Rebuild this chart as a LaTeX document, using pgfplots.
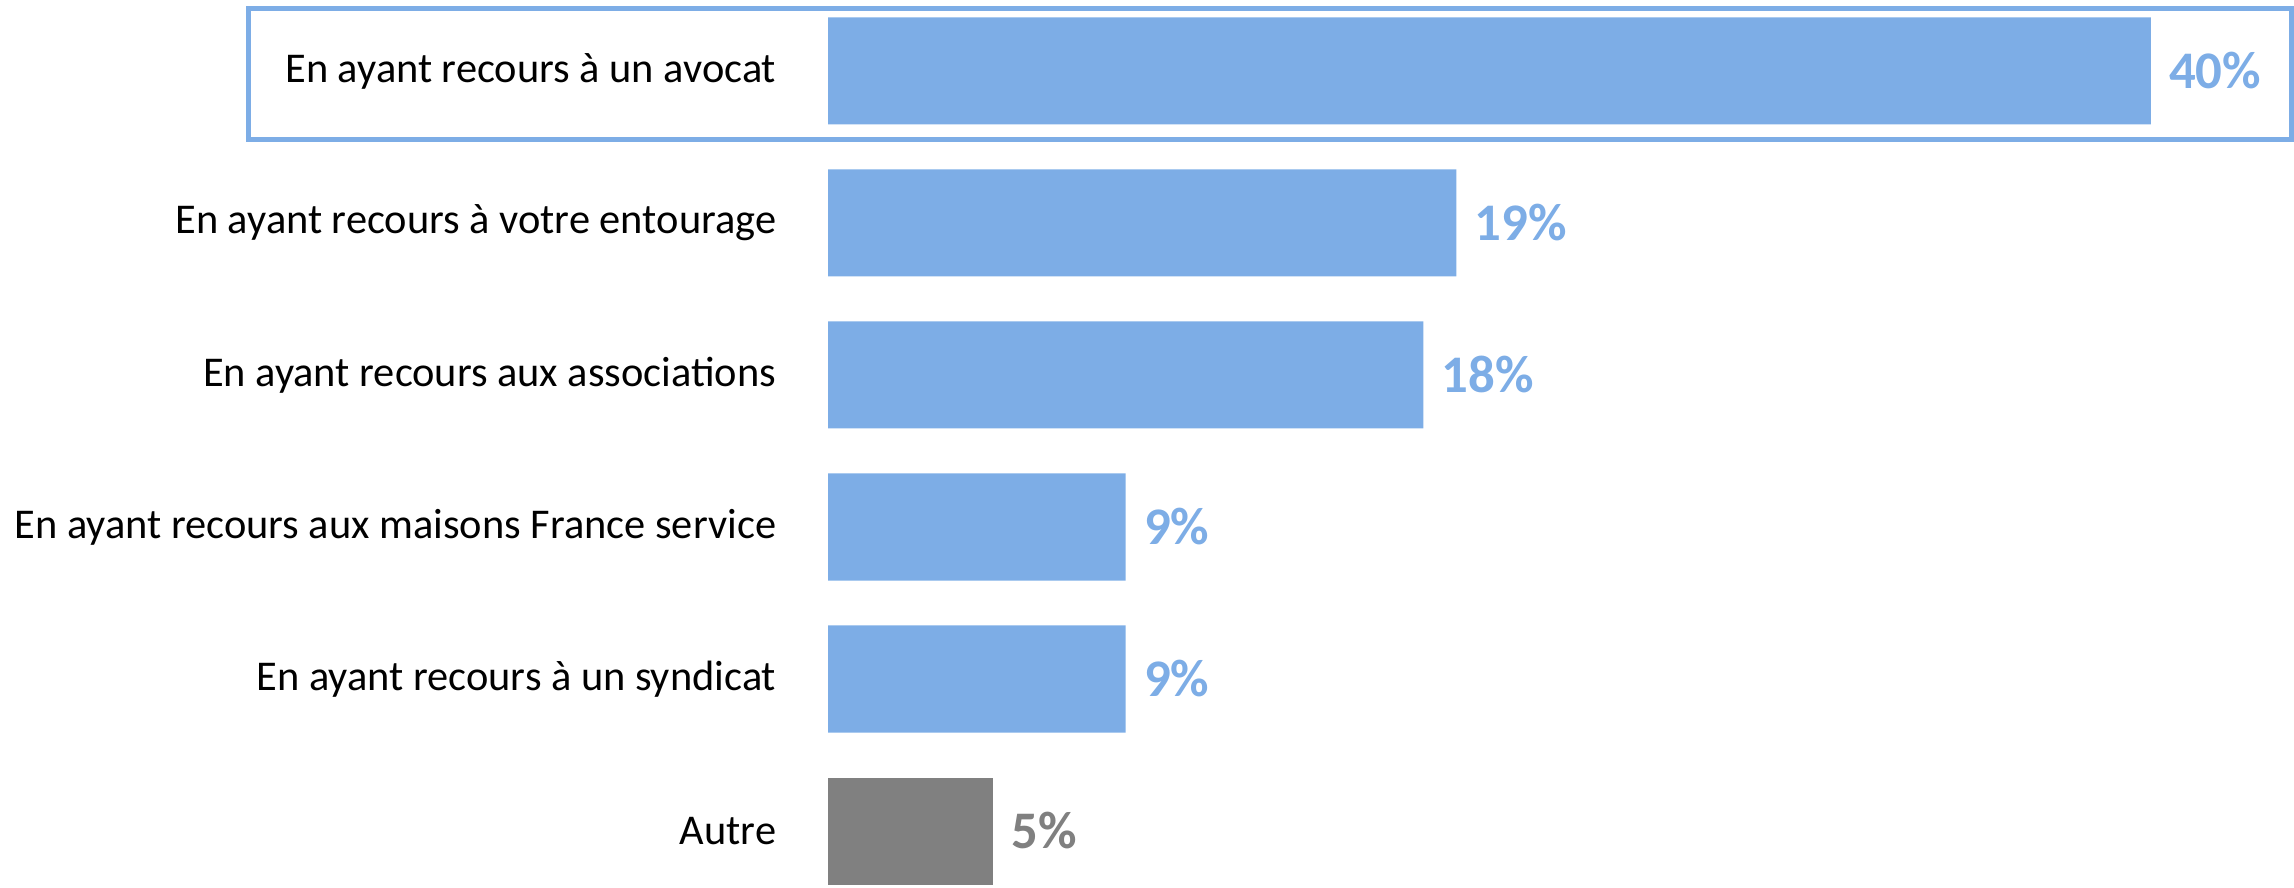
\documentclass[border=0pt]{standalone}
\usepackage{fontspec}
\setmainfont{Carlito}
\usepackage{pgfplots}
\pgfplotsset{compat=1.18}
\definecolor{barblue}{RGB}{125,173,230}
\definecolor{bargray}{RGB}{128,128,128}
\begin{document}
\begin{tikzpicture}
\useasboundingbox (0,0) rectangle (573.5bp,222bp);
\begin{axis}[
  at={(207bp,0bp)}, anchor=south west,
  scale only axis,
  width=365.75bp, height=222bp,
  xmin=0, xmax=44.24,
  ymin=-0.467, ymax=5.375,
  y dir=reverse,
  xbar, bar width=0.704, bar shift=0pt,
  axis line style={draw=none},
  tick style={draw=none},
  major tick length=0pt,
  xtick=\empty,
  ytick={0,1,2,3,4,5},
  yticklabels={En ayant recours à un avocat, En ayant recours à votre entourage, En ayant recours aux associations, En ayant recours aux maisons France service, En ayant recours à un syndicat, Autre},
  yticklabel style={font=\fontsize{10.6bp}{12bp}\selectfont, anchor=east, inner sep=0pt, xshift=-12.75bp},
  clip=false,
  point meta=x,
  /pgf/number format/assume math mode=true,
  nodes near coords={\pgfmathprintnumber[fixed,precision=0,assume math mode=true]{\pgfplotspointmeta}\%},
  nodes near coords style={anchor=west, inner sep=0pt, xshift=4.4bp, font=\fontsize{13.2bp}{15bp}\selectfont\bfseries},
]
\addplot[fill=barblue, draw=none, every node near coord/.append style={text=barblue}] coordinates {(40,0) (19,1) (18,2) (9,3) (9,4)};
\addplot[fill=bargray, draw=none, every node near coord/.append style={text=bargray}] coordinates {(5,5)};
\draw[barblue, line width=1.25bp] (axis cs:-17.51,-0.408) rectangle (axis cs:44.24,0.454);
\end{axis}
\end{tikzpicture}
\end{document}
